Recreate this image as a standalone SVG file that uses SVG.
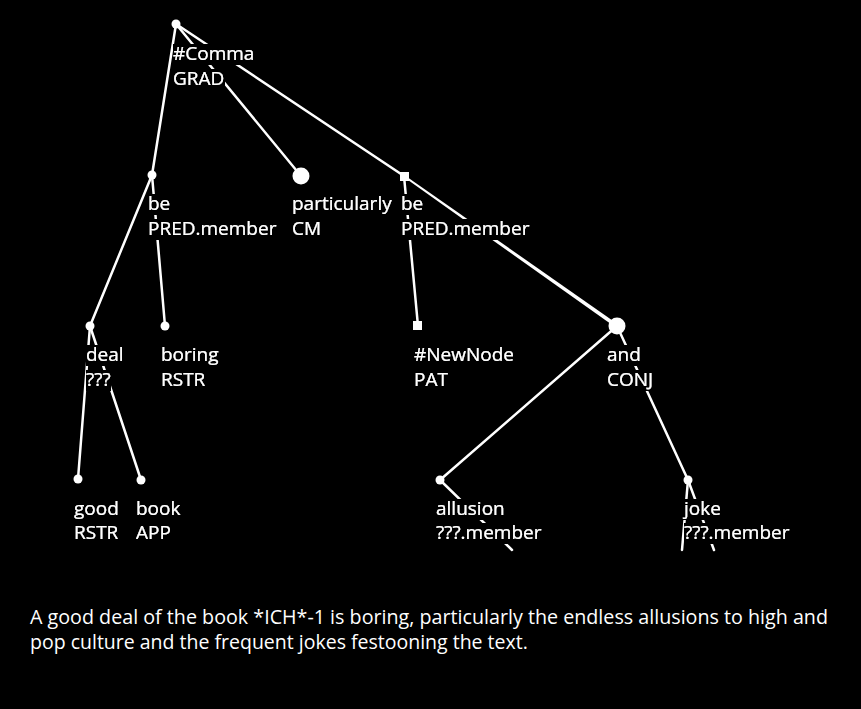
<svg xmlns="http://www.w3.org/2000/svg" width="861" height="709" viewBox="0 0 861 709">
<style>
.e{stroke:#fff;stroke-width:2.5;fill:none;stroke-linecap:round}
.t{fill:#fff;font-family:"Open Sans","Noto Sans","DejaVu Sans",sans-serif;font-size:19px;filter:url(#bg)}
.c{fill:#fff;font-family:"Open Sans","Noto Sans","DejaVu Sans",sans-serif;font-size:19.5px}
.n{fill:#fff}
</style>
<defs>
<filter id="bg" x="0" y="0.16" width="1" height="0.8">
<feFlood flood-color="#000" result="b"/>
<feMerge><feMergeNode in="b"/><feMergeNode in="SourceGraphic"/></feMerge>
</filter>
</defs>
<rect width="861" height="709" fill="#000"/>
<g id="connectors">
<line class="e" x1="176" y1="24" x2="152" y2="175"/>
<line class="e" x1="176" y1="24" x2="301" y2="176"/>
<line class="e" x1="176" y1="24" x2="404" y2="176"/>
<polygon class="n" points="403.4,176.8 404.6,175.2 618.2,324.4 615.8,327.6"/>
<line class="e" x1="152" y1="175" x2="90" y2="326"/>
<line class="e" x1="152" y1="175" x2="165" y2="326"/>
<line class="e" x1="404" y1="176" x2="418" y2="326"/>
<line class="e" x1="90" y1="326" x2="78" y2="479"/>
<line class="e" x1="90" y1="326" x2="141" y2="480"/>
<line class="e" x1="617" y1="326" x2="440" y2="480"/>
<line class="e" x1="617" y1="326" x2="688" y2="480"/>
<line class="e" x1="440" y1="480" x2="512" y2="550"/>
<line class="e" x1="688" y1="480" x2="682" y2="550"/>
<line class="e" x1="688" y1="480" x2="714" y2="550"/>
</g>
<g id="n-comma"><circle class="n" cx="176" cy="24" r="4.5"/><text class="t" x="173" y="60">#Comma</text><text class="t" x="173" y="85">GRAD</text></g>
<g id="n-be1"><circle class="n" cx="152" cy="175" r="4.5"/><text class="t" x="148" y="210">be</text><text class="t" x="148" y="235">PRED.member</text></g>
<g id="n-particularly"><circle class="n" cx="301" cy="176" r="8.5"/><text class="t" x="292" y="210">particularly</text><text class="t" x="292" y="235">CM</text></g>
<g id="n-be2"><rect class="n" x="400" y="172" width="9" height="9"/><text class="t" x="401" y="210">be</text><text class="t" x="401" y="235">PRED.member</text></g>
<g id="n-deal"><circle class="n" cx="90" cy="326" r="4.5"/><text class="t" x="86" y="361">deal</text><text class="t" x="86" y="386">???</text></g>
<g id="n-boring"><circle class="n" cx="165" cy="326" r="4.5"/><text class="t" x="161" y="361">boring</text><text class="t" x="161" y="386">RSTR</text></g>
<g id="n-newnode"><rect class="n" x="413" y="321" width="9" height="9"/><text class="t" x="414" y="361">#NewNode</text><text class="t" x="414" y="386">PAT</text></g>
<g id="n-and"><circle class="n" cx="617" cy="326" r="8.5"/><text class="t" x="607" y="361">and</text><text class="t" x="607" y="386">CONJ</text></g>
<g id="n-good"><circle class="n" cx="78" cy="479" r="4.5"/><text class="t" x="74" y="515">good</text><text class="t" x="74" y="539">RSTR</text></g>
<g id="n-book"><circle class="n" cx="141" cy="480" r="4.5"/><text class="t" x="136" y="515">book</text><text class="t" x="136" y="539">APP</text></g>
<g id="n-allusion"><circle class="n" cx="440" cy="480" r="4.5"/><text class="t" x="436" y="515">allusion</text><text class="t" x="436" y="539">???.member</text></g>
<g id="n-joke"><circle class="n" cx="688" cy="480" r="4.5"/><text class="t" x="684" y="515">joke</text><text class="t" x="684" y="539">???.member</text></g>
<g id="caption">
<text class="c" x="30" y="624" textLength="798" lengthAdjust="spacingAndGlyphs">A good deal of the book *ICH*-1 is boring, particularly the endless allusions to high and</text>
<text class="c" x="30" y="649">pop culture and the frequent jokes festooning the text.</text>
</g>
</svg>
